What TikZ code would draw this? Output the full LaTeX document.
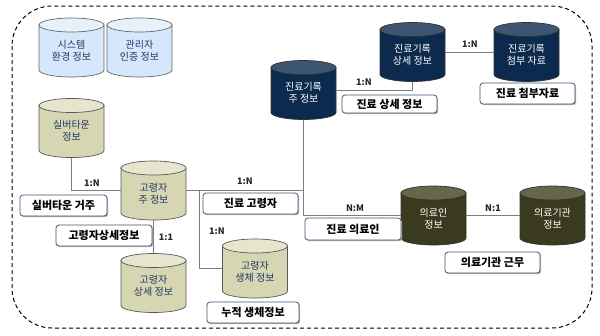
\documentclass[tikz,border=0pt]{standalone}
\usepackage{fontspec}
\setmainfont{Noto Sans CJK KR}
\usetikzlibrary{shadows}
\definecolor{navyb}{HTML}{0C2A4E}
\definecolor{navyt}{HTML}{3D5573}
\definecolor{oliveb}{HTML}{3A3A1E}
\definecolor{olivet}{HTML}{66664C}
\definecolor{khakib}{HTML}{D6D6B2}
\definecolor{khakit}{HTML}{E6E6CE}
\definecolor{blueb}{HTML}{D5E8FB}
\definecolor{bluet}{HTML}{E6F1FC}
\definecolor{txtblue}{HTML}{1F3864}
\definecolor{lineg}{HTML}{7F7F7F}
\definecolor{boxb}{HTML}{3F5473}
\newcommand\mycyl[8]{%
  \path[draw=#7, line width=0.7pt, fill=#4]
    (#2-32.5,#3-22.5) -- (#2-32.5,#3+22.5)
    arc[start angle=180,end angle=360,x radius=32.5pt,y radius=7pt]
    -- (#2+32.5,#3-22.5) -- cycle;
  \path[draw=#7, line width=0.7pt, fill=#5] (#2,#3-22.5) ellipse[x radius=32.5pt,y radius=7pt];
  \node[cylnode, text=#6] (#1) at (#2,#3) {};
  \node[font=\fontsize{10}{12}\selectfont, text=#6, align=center] at (#2,#3+3) {#8};
}
\tikzset{
  cylnode/.style={minimum width=65pt, minimum height=59pt, inner sep=0pt},
  conn/.style={draw=lineg, line width=0.9pt},
  lbl/.style={draw=boxb, line width=0.8pt, fill=white, rounded corners=3pt, inner sep=0pt,
    font=\bfseries\fontsize{11}{13}\selectfont,
    drop shadow={shadow xshift=1.2pt, shadow yshift=-1.2pt, fill=gray!60, opacity=1}},
  ratio/.style={font=\bfseries\fontsize{9}{11}\selectfont, text=black!85, inner sep=0pt}
}
\begin{document}
\begin{tikzpicture}[x=1pt,y=-1pt]
\useasboundingbox (0,0) rectangle (600,335);
\draw[dashed, dash pattern=on 4pt off 3pt, line width=1pt, rounded corners=40pt] (12,6) rectangle (592,328);

% cylinders
\mycyl{sys}{71.5}{47.5}{blueb}{bluet}{txtblue}{black!60}{시스템\\환경 정보}
\mycyl{adm}{139.5}{47.5}{blueb}{bluet}{txtblue}{black!60}{관리자\\인증 정보}
\mycyl{sil}{71.5}{128}{khakib}{khakit}{txtblue}{black!65}{실버타운\\정보}
\mycyl{gm}{153.5}{190.5}{khakib}{khakit}{txtblue}{black!65}{고령자\\주 정보}
\mycyl{gd}{153.5}{283}{khakib}{khakit}{txtblue}{black!65}{고령자\\상세 정보}
\mycyl{bio}{255}{268.5}{khakib}{khakit}{txtblue}{black!65}{고령자\\생체 정보}
\mycyl{jm}{303.5}{90}{navyb}{navyt}{white}{black!80}{진료기록\\주 정보}
\mycyl{jd}{412.5}{52}{navyb}{navyt}{white}{black!80}{진료기록\\상세 정보}
\mycyl{ja}{526.5}{52}{navyb}{navyt}{white}{black!80}{진료기록\\첨부 자료}
\mycyl{ui}{433.5}{215.5}{oliveb}{olivet}{white}{black!80}{의료인\\정보}
\mycyl{ig}{552.5}{215.5}{oliveb}{olivet}{white}{black!80}{의료기관\\정보}

% connectors
\coordinate (b1) at (199,190.5);
\draw[conn] (sil.south) |- (gm.west);
\draw[conn] (gm.east) -| (jm.south);
\draw[conn] (jm.south) |- (ui.west);
\draw[conn] (jm.east) -| (jd.south);
\draw[conn] (jd.east) -- (ja.west);
\draw[conn] (gm.south) -- (gd.north);
\draw[conn] (b1) |- (bio.west);
\draw[conn] (ui.east) -- (ig.west);

% ratios
\node[ratio] (r1) at (92,183) {1:N};
\node[ratio] (r2) at (245,181) {1:N};
\node[ratio] (r3) at (364,82) {1:N};
\node[ratio] (r4) at (470,44) {1:N};
\node[ratio] (r5) at (166,237) {1:1};
\node[ratio] (r6) at (217,231) {1:N};
\node[ratio] (r7) at (355,208) {N:M};
\node[ratio] (r8) at (493,208) {N:1};

% labels
\node[lbl, minimum width=95pt, minimum height=18pt] (l1) at (389.5,104) {진료 상세 정보};
\node[lbl, minimum width=95pt, minimum height=21pt] (l2) at (527.5,93.5) {진료 첨부자료};
\node[lbl, minimum width=87pt, minimum height=21pt] (l3) at (63.5,205.5) {실버타운 거주};
\node[lbl, minimum width=95pt, minimum height=21pt] (l4) at (250.5,203.5) {진료 고령자};
\node[lbl, minimum width=96pt, minimum height=21pt] (l5) at (104,235.5) {고령자상세정보};
\node[lbl, minimum width=92pt, minimum height=21pt] (l6) at (253,312.5) {누적 생체정보};
\node[lbl, minimum width=96pt, minimum height=22pt] (l7) at (353,229) {진료 의료인};
\node[lbl, minimum width=95pt, minimum height=21pt] (l8) at (492.5,262.5) {의료기관 근무};
\end{tikzpicture}
\end{document}
